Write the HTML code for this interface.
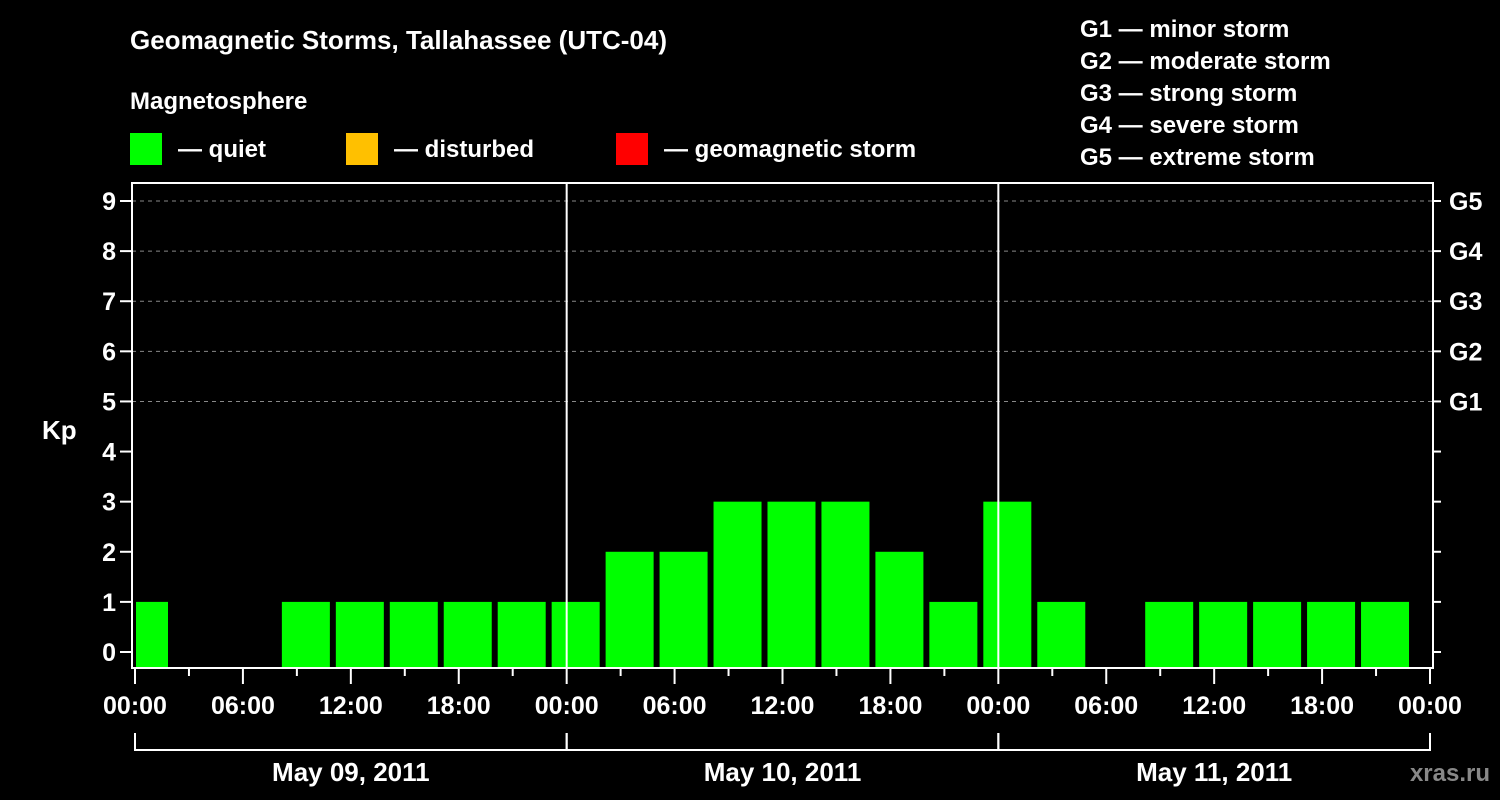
<!DOCTYPE html>
<html><head><meta charset="utf-8"><style>
html,body{margin:0;padding:0;background:#000;}
svg{display:block;font-family:"Liberation Sans",Arial,sans-serif;font-weight:bold;}
</style></head><body>
<svg id="chart" width="1500" height="800" viewBox="0 0 1500 800">
<rect width="1500" height="800" fill="#000"/>
<text x="130" y="49" fill="#fff" font-size="26">Geomagnetic Storms, Tallahassee (UTC-04)</text>
<text x="130" y="109" fill="#fff" font-size="24">Magnetosphere</text>
<rect x="130" y="133" width="32" height="32" fill="#00ff00"/>
<text x="178" y="157" fill="#fff" font-size="24">— quiet</text>
<rect x="346" y="133" width="32" height="32" fill="#ffc000"/>
<text x="394" y="157" fill="#fff" font-size="24">— disturbed</text>
<rect x="616" y="133" width="32" height="32" fill="#ff0000"/>
<text x="664" y="157" fill="#fff" font-size="24">— geomagnetic storm</text>
<g fill="#fff" font-size="24">
<text x="1080" y="37">G1 — minor storm</text>
<text x="1080" y="69">G2 — moderate storm</text>
<text x="1080" y="101">G3 — strong storm</text>
<text x="1080" y="133">G4 — severe storm</text>
<text x="1080" y="165">G5 — extreme storm</text>
</g>
<text x="42" y="439" fill="#fff" font-size="26">Kp</text>
<text x="1490" y="781" fill="#888" font-size="24" text-anchor="end">xras.ru</text>
<g id="grid"></g><g id="bars"></g><g id="axes"></g>
</svg>
<script>
const kpValues = [1,null,null,1,1,1,1,1, 1,2,2,3,3,3,2,1, 3,1,null,1,1,1,1,1];
const yTicks = [0,1,2,3,4,5,6,7,8,9];
const gLabels = ["G1","G2","G3","G4","G5"];
const gLevels = [5,6,7,8,9];
const timeLabels = ["00:00","06:00","12:00","18:00","00:00","06:00","12:00","18:00","00:00","06:00","12:00","18:00","00:00"];
const dayLabels = ["May 09, 2011","May 10, 2011","May 11, 2011"];

const NS="http://www.w3.org/2000/svg";
const X0=135, X1=1430, HOURS=72, L=132, R=1433, T=183, B=668;
const x=h=>X0+(X1-X0)*h/HOURS;
const y=v=>652-v*(652-201)/9;
function mk(tag,attrs,parent,text){const e=document.createElementNS(NS,tag);for(const k in attrs)e.setAttribute(k,attrs[k]);if(text!==undefined)e.textContent=text;parent.appendChild(e);return e;}
const grid=document.getElementById('grid'),bars=document.getElementById('bars'),axes=document.getElementById('axes');

gLevels.forEach((lv,i)=>{
  const l=mk('line',{x1:L,x2:R,y1:y(lv),y2:y(lv),stroke:'#888','stroke-width':1,'stroke-dasharray':'4,4'},grid);
  
  
});

kpValues.forEach((v,i)=>{
  if(v===null) return;
  const c=x(i*3+0.5);
  let x0=c-24, x1=c+24;
  if(x0<L+4) x0=L+4;
  const r=mk('rect',{x:x0,y:y(v),width:x1-x0,height:B-y(v),fill:'#00ff00'},bars);
  
  
});

// frame
const f=mk('path',{d:`M${L} ${T}H${R}V${B}H${L}Z`,fill:'none',stroke:'#fff','stroke-width':2},axes);


[24,48].forEach(h=>{
  const d=mk('line',{x1:x(h),x2:x(h),y1:T,y2:B,stroke:'#fff','stroke-width':2},axes);
  
  
});
yTicks.forEach(v=>{
  mk('line',{x1:120,x2:L,y1:y(v),y2:y(v),stroke:'#fff','stroke-width':2},axes);
  mk('line',{x1:R,x2:1441,y1:y(v),y2:y(v),stroke:'#fff','stroke-width':2},axes);
  const t=mk('text',{x:116,y:y(v)+9,fill:'#fff','font-size':25,'text-anchor':'end'},axes,String(v));
  
  
});
gLevels.forEach((lv,i)=>{
  const t=mk('text',{x:1449,y:y(lv)+9,fill:'#fff','font-size':25},axes,gLabels[i]);
  
  
});
for(let h=0;h<=72;h+=3){
  const major=h%6===0;
  mk('line',{x1:x(h),x2:x(h),y1:B,y2:B+(major?16:8),stroke:'#fff','stroke-width':2},axes);
}
timeLabels.forEach((s,i)=>{
  const t=mk('text',{x:x(i*6),y:714,fill:'#fff','font-size':25,'text-anchor':'middle'},axes,s);
  
  
});
dayLabels.forEach((s,i)=>{
  const a=x(i*24),b=x(i*24+24);
  mk('path',{d:`M${a} 733V750H${b}V733`,fill:'none',stroke:'#fff','stroke-width':2},axes);
  const t=mk('text',{x:(a+b)/2,y:781,fill:'#fff','font-size':26,'text-anchor':'middle'},axes,s);
  
  
});
</script>
</body></html>
